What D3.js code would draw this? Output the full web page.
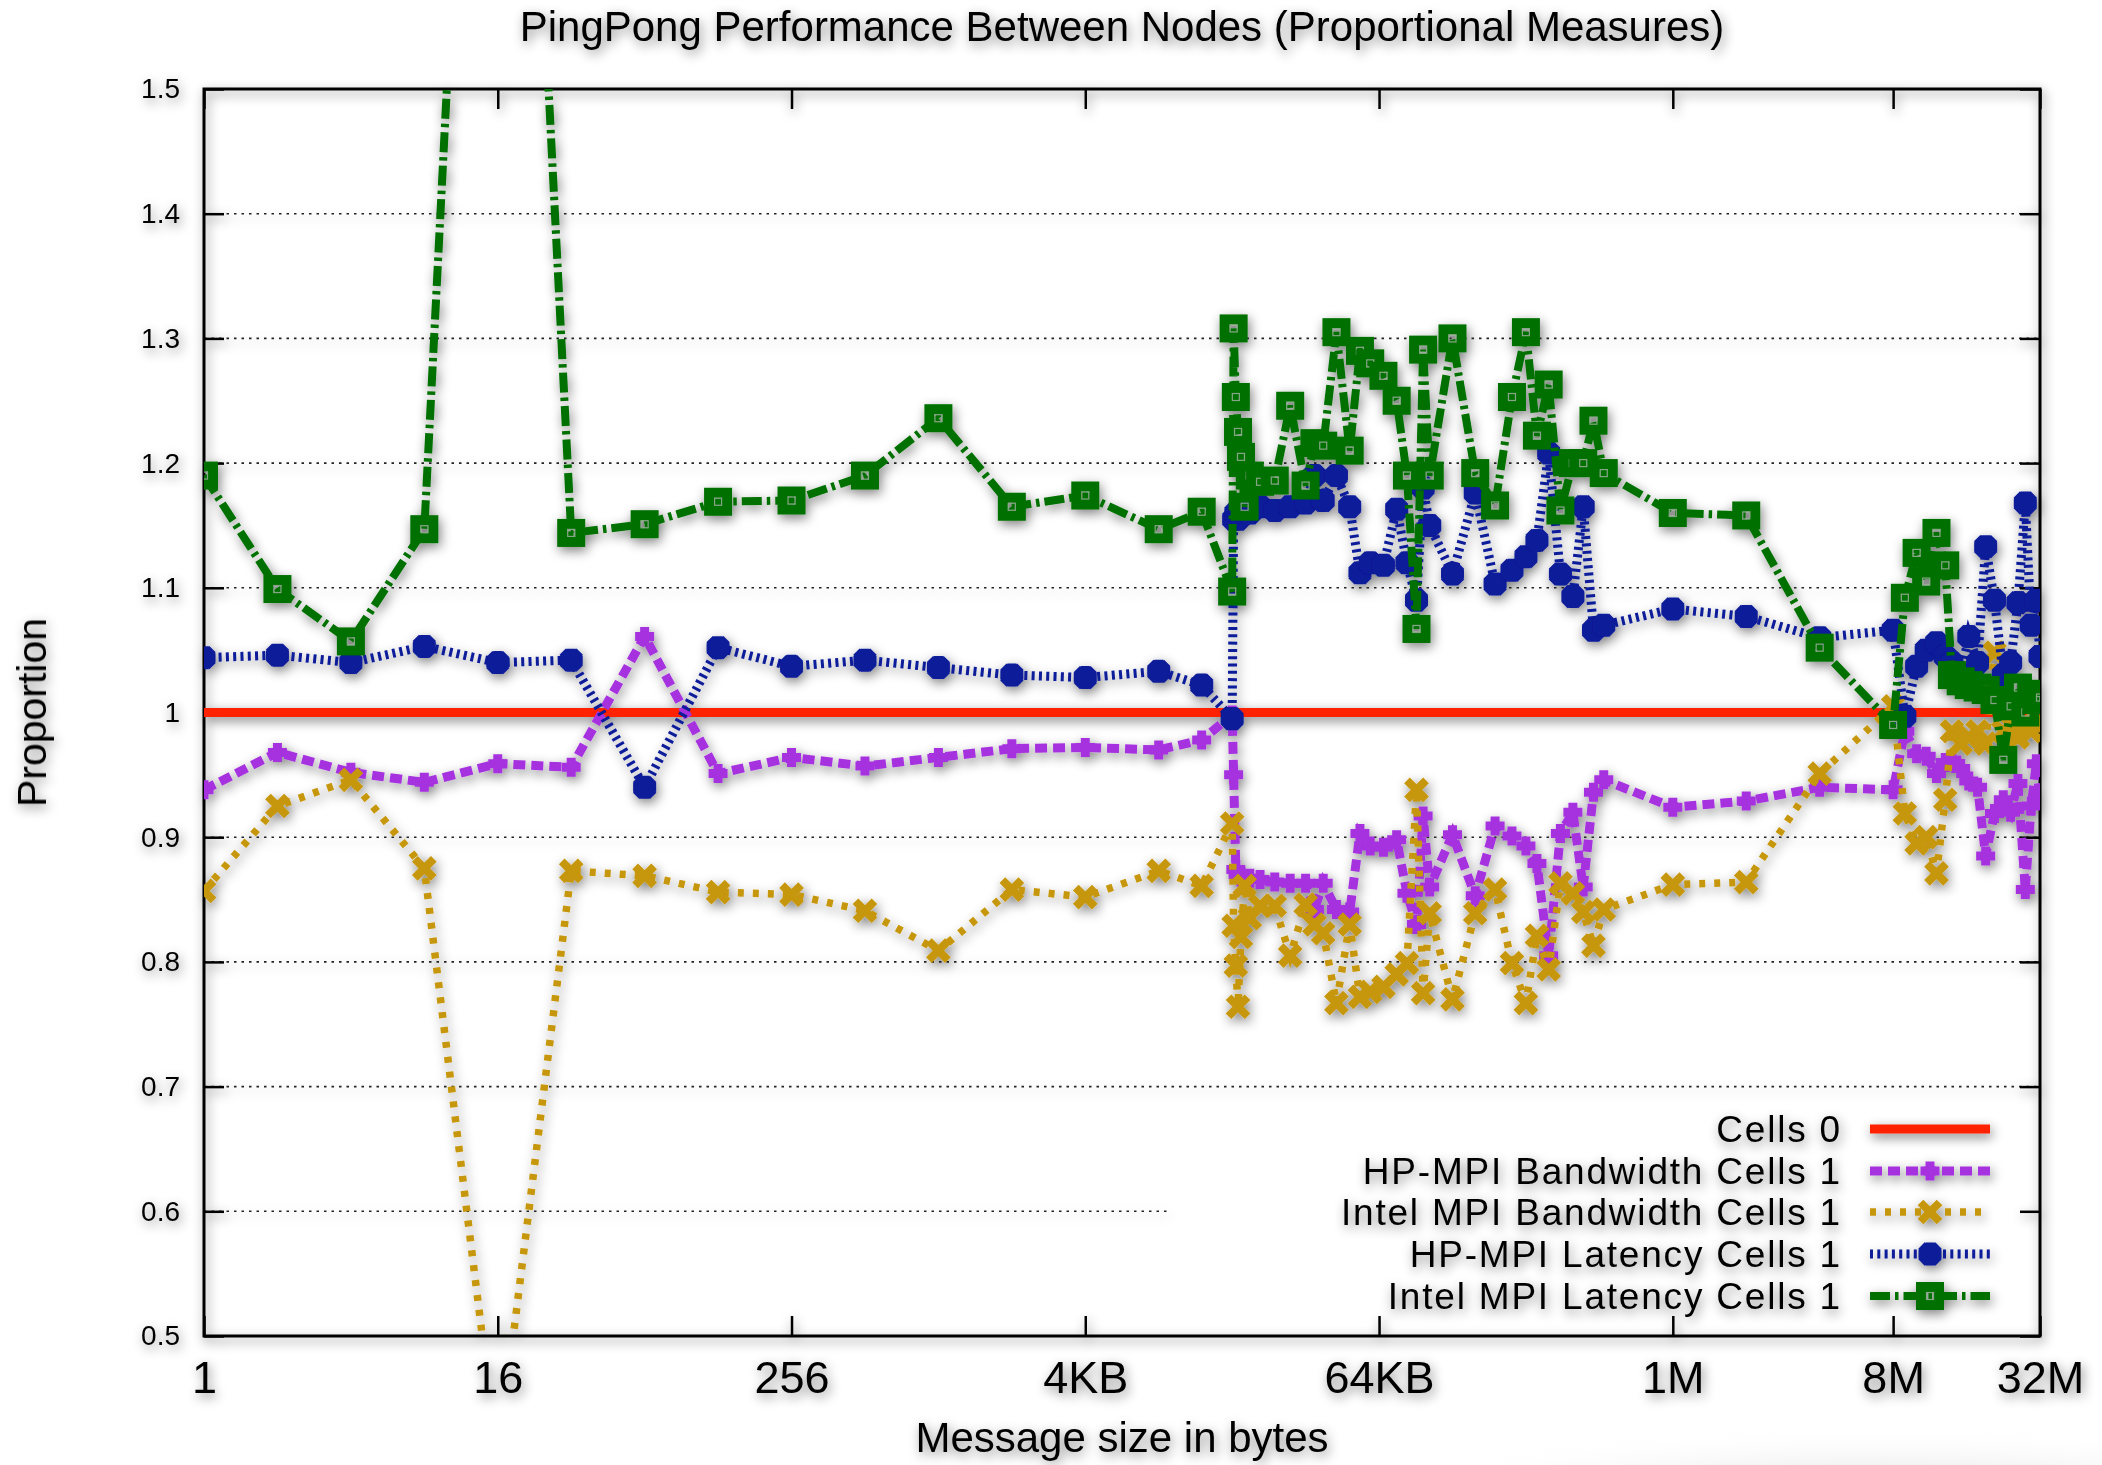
<!DOCTYPE html>
<html>
<head>
<meta charset="utf-8">
<script src="https://cdn.jsdelivr.net/npm/d3@7"></script>
<style>
  body { margin: 0; background: #fff; }
  svg { display: block; }
  text { font-family: "Liberation Sans", Arial, Helvetica, sans-serif; fill: #000; }
</style>
</head>
<body>
<script>
// dimensione dei messaggi (byte) - asse x in scala log2
const sizes = [
  1, 2, 4, 8, 16, 32, 64, 128, 256, 512, 1024, 2048, 4096, 8192, 12288,
  16384, 16613, 16962, 17318, 17805, 18433, 19350, 21320, 24492, 28329,
  32768, 35610, 38699, 43841, 49667, 54728, 60304, 68319, 77397, 85282,
  93327, 99334, 105728, 131072, 162464, 195933, 229795, 262144, 290867, 324928,
  363070, 408414, 450136, 495995, 546555,
  1048576, 2097152, 4194304, 8388608,
  9372000, 10470000, 11460000, 12630000, 13720000, 14610000, 15870000, 17130000, 18620000,
  20090000, 21830000, 23730000, 25430000, 27250000, 29210000, 30880000, 32410000, 33554432
];

// riferimento Cells 0 (linea a 1)
const cells0Sizes = [1, 33554432];
const cells0 = [1, 1];

const hpBandwidth = [
  0.938, 0.968, 0.952, 0.944, 0.959, 0.956, 1.061, 0.951, 0.964, 0.957, 0.964, 0.971, 0.972, 0.970, 0.978,
  0.998, 0.950, 0.874, 0.870, 0.868, 0.866, 0.867, 0.866, 0.864, 0.863,
  0.863, 0.842, 0.863, 0.842, 0.840, 0.903, 0.893, 0.892, 0.898, 0.855,
  0.830, 0.917, 0.860, 0.902, 0.853, 0.909, 0.901, 0.893, 0.879, 0.805,
  0.903, 0.920, 0.860, 0.936, 0.946,
  0.924, 0.929, 0.940, 0.938,
  0.985, 0.967, 0.965, 0.951, 0.960, 0.962, 0.955, 0.945, 0.940,
  0.885, 0.919, 0.930, 0.920, 0.943, 0.858, 0.925, 0.959, 0.930
];

const intelBandwidth = [
  0.857, 0.925, 0.946, 0.875, 0.400, 0.873, 0.869, 0.856, 0.854, 0.841, 0.809, 0.858, 0.852, 0.873, 0.861,
  0.911, 0.829, 0.797, 0.764, 0.820, 0.861, 0.835, 0.845, 0.845, 0.805,
  0.846, 0.830, 0.823, 0.767, 0.830, 0.772, 0.776, 0.780, 0.790, 0.799,
  0.938, 0.775, 0.839, 0.770, 0.839, 0.858, 0.799, 0.767, 0.821, 0.794,
  0.863, 0.855, 0.840, 0.813, 0.842,
  0.862, 0.864, 0.951, 1.005,
  0.919, 0.895, 0.900, 0.871, 0.930, 0.985, 0.975, 0.980, 0.985,
  0.975, 1.048, 0.985, 0.990, 0.980, 0.990, 0.985, 0.991, 0.990
];

const hpLatency = [
  1.044, 1.046, 1.040, 1.053, 1.040, 1.042, 0.940, 1.052, 1.037, 1.042, 1.036, 1.030, 1.028, 1.033, 1.022,
  0.995, 1.155, 1.160, 1.155, 1.158, 1.160, 1.160, 1.165, 1.162, 1.165,
  1.168, 1.190, 1.170, 1.190, 1.165, 1.112, 1.120, 1.118, 1.163, 1.120,
  1.090, 1.180, 1.150, 1.111, 1.176, 1.103, 1.114, 1.125, 1.138, 1.208,
  1.111, 1.093, 1.165, 1.066, 1.070,
  1.083, 1.077, 1.060, 1.066,
  0.997, 1.037, 1.050, 1.056, 1.045, 1.040, 1.030, 1.061, 1.040,
  1.133, 1.090, 1.030, 1.040, 1.088, 1.168, 1.070, 1.090, 1.045
];

const intelLatency = [
  1.190, 1.099, 1.057, 1.147, 2.300, 1.144, 1.151, 1.169, 1.170, 1.190, 1.236, 1.165, 1.174, 1.147, 1.161,
  1.097, 1.308, 1.253, 1.225, 1.205, 1.165, 1.190, 1.185, 1.186, 1.246,
  1.182, 1.216, 1.214, 1.305, 1.210, 1.290, 1.280, 1.270, 1.250, 1.190,
  1.067, 1.291, 1.190, 1.300, 1.192, 1.166, 1.253, 1.305, 1.222, 1.263,
  1.162, 1.200, 1.200, 1.234, 1.192,
  1.160, 1.158, 1.052, 0.990,
  1.092, 1.128, 1.105, 1.144, 1.118, 1.030, 1.025, 1.022, 1.020,
  1.018, 1.010, 0.962, 1.005, 1.020, 1.000, 1.015, 1.010, 1.012
];

// etichette degli assi
const xTickValues = [1, 16, 256, 4096, 65536, 1048576, 8388608, 33554432];
const xTickLabels = ["1", "16", "256", "4KB", "64KB", "1M", "8M", "32M"];
const yTickValues = [0.5, 0.6, 0.7, 0.8, 0.9, 1, 1.1, 1.2, 1.3, 1.4, 1.5];

const width = 2102, height = 1465;
const plot = { left: 204, right: 2040, top: 89, bottom: 1336 };

const svg = d3.select("body").append("svg")
  .attr("width", width)
  .attr("height", height);

const defs = svg.append("defs");

// ombra morbida su tutto il grafico
const filter = defs.append("filter").attr("id", "shadow")
  .attr("filterUnits", "userSpaceOnUse")
  .attr("x", 0).attr("y", 0).attr("width", width).attr("height", height);
filter.append("feGaussianBlur").attr("in", "SourceAlpha").attr("stdDeviation", 6).attr("result", "blur");
filter.append("feOffset").attr("in", "blur").attr("dx", 2).attr("dy", 4).attr("result", "off");
filter.append("feComponentTransfer").attr("in", "off").attr("result", "soft")
  .append("feFuncA").attr("type", "linear").attr("slope", 0.5);
const merge = filter.append("feMerge");
merge.append("feMergeNode").attr("in", "soft");
merge.append("feMergeNode").attr("in", "SourceGraphic");

defs.append("clipPath").attr("id", "plotClip")
  .append("rect")
  .attr("x", plot.left).attr("y", plot.top)
  .attr("width", plot.right - plot.left).attr("height", plot.bottom - plot.top);

const grad = defs.append("radialGradient").attr("id", "corner");
grad.append("stop").attr("offset", "0%").attr("stop-color", "#d6d6d6");
grad.append("stop").attr("offset", "100%").attr("stop-color", "#ffffff").attr("stop-opacity", 0);

// ombreggiatura in basso a destra
svg.append("ellipse")
  .attr("cx", 1880).attr("cy", 1500)
  .attr("rx", 520).attr("ry", 75)
  .attr("fill", "url(#corner)");

const root = svg.append("g").attr("filter", "url(#shadow)");

const x = d3.scaleLog().base(2).domain([1, 33554432]).range([plot.left, plot.right]);
const y = d3.scaleLinear().domain([0.5, 1.5]).range([plot.bottom, plot.top]);

// legenda: box opaco che copre la griglia
const legendBox = { left: 1167, right: 2015, top: 1104, bottom: 1322 };

// griglia tratteggiata
root.append("g").selectAll("line")
  .data(yTickValues.filter(v => v > 0.5 && v < 1.5))
  .enter().append("line")
  .attr("x1", plot.left)
  .attr("x2", v => (y(v) > legendBox.top && y(v) < legendBox.bottom) ? legendBox.left : plot.right)
  .attr("y1", v => y(v)).attr("y2", v => y(v))
  .attr("stroke", "#222").attr("stroke-width", 1.6)
  .attr("stroke-dasharray", "2.5,5");

// assi con tacche verso l'interno
const tickLen = 20;
const xAxis = root.append("g")
  .attr("transform", `translate(0,${plot.bottom})`)
  .call(d3.axisBottom(x).tickValues(xTickValues)
    .tickFormat((d, i) => xTickLabels[i])
    .tickSizeInner(-tickLen).tickSizeOuter(0).tickPadding(25));
xAxis.selectAll("text").style("font-size", "45px").style("font-family", "Liberation Sans, Arial, sans-serif");

root.append("g")
  .attr("transform", `translate(0,${plot.top})`)
  .call(d3.axisTop(x).tickValues(xTickValues).tickFormat("")
    .tickSizeInner(-tickLen).tickSizeOuter(0));

const yAxis = root.append("g")
  .attr("transform", `translate(${plot.left},0)`)
  .call(d3.axisLeft(y).tickValues(yTickValues).tickFormat(d3.format(""))
    .tickSizeInner(-tickLen).tickSizeOuter(0).tickPadding(24));
yAxis.selectAll("text").style("font-size", "28px").style("font-family", "Liberation Sans, Arial, sans-serif");

root.append("g")
  .attr("transform", `translate(${plot.right},0)`)
  .call(d3.axisRight(y).tickValues(yTickValues).tickFormat("")
    .tickSizeInner(-tickLen).tickSizeOuter(0));

root.selectAll(".domain").remove();
root.selectAll(".tick line").attr("stroke", "#000").attr("stroke-width", 2.5);

// cornice
root.append("rect")
  .attr("x", plot.left).attr("y", plot.top)
  .attr("width", plot.right - plot.left).attr("height", plot.bottom - plot.top)
  .attr("fill", "none").attr("stroke", "#000").attr("stroke-width", 3);

// forme dei punti (stile gnuplot)
const markerPath = {
  plus: r => `M${-r},0H${r}M0,${-r}V${r}`,
  times: r => `M${-r},${-r}L${r},${r}M${-r},${r}L${r},${-r}`
};

function drawMarker(g, type, color) {
  if (type === "square") {
    g.append("rect")
      .attr("x", -9).attr("y", -9).attr("width", 18).attr("height", 18)
      .attr("fill", "none").attr("stroke", color).attr("stroke-width", 10);
    g.append("rect")
      .attr("x", -3.5).attr("y", -3.5).attr("width", 7).attr("height", 7)
      .attr("fill", "none").attr("stroke", "#86a586").attr("stroke-width", 1.2);
  } else if (type === "plus") {
    g.append("path").attr("d", markerPath.plus(9.5))
      .attr("stroke", color).attr("stroke-width", 9).attr("fill", "none");
  } else if (type === "times") {
    g.append("path").attr("d", markerPath.times(9.5))
      .attr("stroke", color).attr("stroke-width", 8).attr("fill", "none");
  } else if (type === "star") {
    g.append("path").attr("d", markerPath.plus(11.5) + markerPath.times(8.5))
      .attr("stroke", color).attr("stroke-width", 9).attr("fill", "none");
  }
}

const series = [
  { name: "Cells 0", xs: cells0Sizes, ys: cells0, color: "#ff2200", width: 9, dash: null, marker: null },
  { name: "HP-MPI Bandwidth Cells 1", xs: sizes, ys: hpBandwidth, color: "#a532de", width: 9, dash: "12,6", marker: "plus" },
  { name: "Intel MPI Bandwidth Cells 1", xs: sizes, ys: intelBandwidth, color: "#c6960a", width: 7.5, dash: "6,9", marker: "times" },
  { name: "HP-MPI Latency Cells 1", xs: sizes, ys: hpLatency, color: "#0a1a98", width: 9, dash: "3,4.3", marker: "star" },
  { name: "Intel MPI Latency Cells 1", xs: sizes, ys: intelLatency, color: "#037003", width: 8, dash: "20,5,3.5,5", marker: "square" }
];

const line = d3.line().x(d => x(d[0])).y(d => y(d[1]));
const plotArea = root.append("g").attr("clip-path", "url(#plotClip)");

series.forEach(s => {
  const pts = s.xs.map((v, i) => [v, s.ys[i]]);
  plotArea.append("path")
    .datum(pts)
    .attr("d", line)
    .attr("fill", "none")
    .attr("stroke", s.color)
    .attr("stroke-width", s.width)
    .attr("stroke-dasharray", s.dash)
    .attr("stroke-linejoin", "miter");
  if (s.marker) {
    plotArea.append("g").selectAll("g")
      .data(pts.filter(p => p[1] >= 0.5 && p[1] <= 1.5))
      .enter().append("g")
      .attr("transform", p => `translate(${x(p[0])},${y(p[1])})`)
      .each(function () { drawMarker(d3.select(this), s.marker, s.color); });
  }
});

// legenda (righe fitte come nell'originale)
const legendRows = [1129, 1171, 1212, 1254, 1296];
const legend = root.append("g");
series.forEach((s, i) => {
  const ly = legendRows[i];
  legend.append("text")
    .attr("x", 1842).attr("y", ly + 13)
    .attr("text-anchor", "end")
    .style("font-size", "37px")
    .style("letter-spacing", "1.8px")
    .text(s.name);
  legend.append("line")
    .attr("x1", 1870).attr("x2", 1990)
    .attr("y1", ly).attr("y2", ly)
    .attr("stroke", s.color).attr("stroke-width", s.width)
    .attr("stroke-dasharray", s.dash);
  if (s.marker) {
    const mg = legend.append("g").attr("transform", `translate(1930,${ly})`);
    drawMarker(mg, s.marker, s.color);
  }
});

// titoli
root.append("text")
  .attr("x", (plot.left + plot.right) / 2).attr("y", 41)
  .attr("text-anchor", "middle")
  .style("font-size", "42px")
  .text("PingPong Performance Between Nodes (Proportional Measures)");

root.append("text")
  .attr("x", (plot.left + plot.right) / 2).attr("y", 1452)
  .attr("text-anchor", "middle")
  .style("font-size", "42px")
  .text("Message size in bytes");

root.append("text")
  .attr("transform", `translate(46,${y(1)}) rotate(-90)`)
  .attr("text-anchor", "middle")
  .style("font-size", "41px")
  .text("Proportion");
</script>
</body>
</html>
